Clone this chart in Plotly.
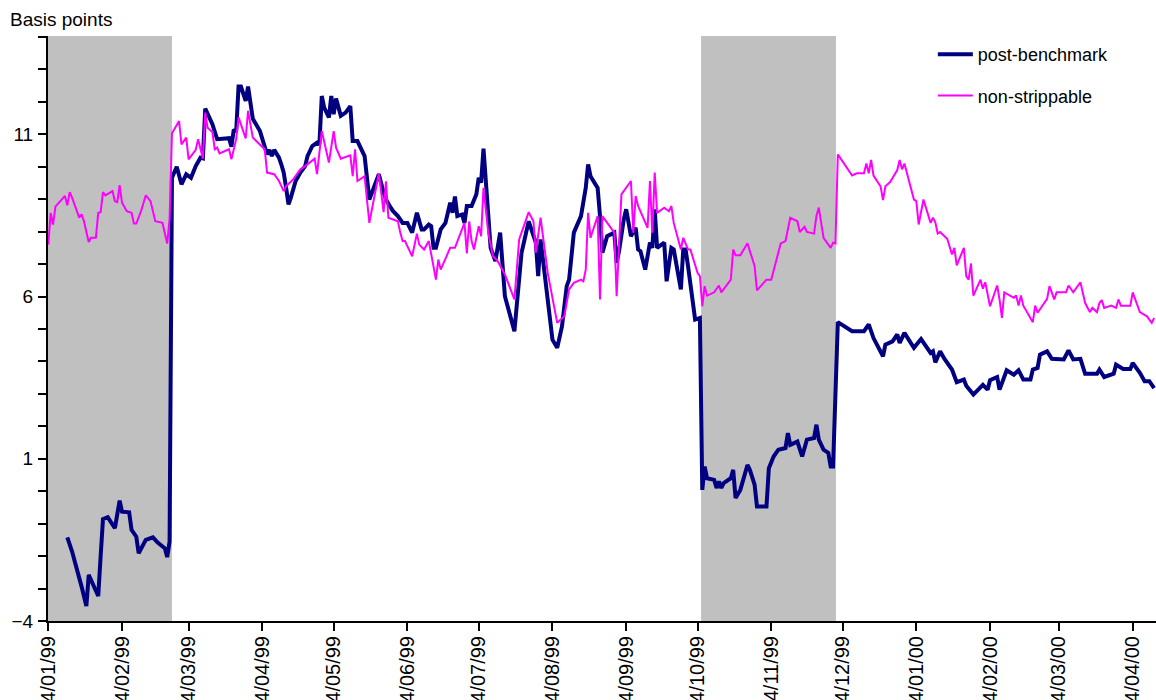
import plotly.graph_objects as go

# ---------------- data ----------------
pb_dates = [
    "1999-01-12", "1999-01-14", "1999-01-18", "1999-01-20", "1999-01-21", "1999-01-25", "1999-01-26",
    "1999-01-27", "1999-01-29", "1999-02-01", "1999-02-03", "1999-02-04", "1999-02-07", "1999-02-08",
    "1999-02-10", "1999-02-11", "1999-02-14", "1999-02-17", "1999-02-19", "1999-02-22", "1999-02-23",
    "1999-02-24", "1999-02-25", "1999-02-27", "1999-03-01", "1999-03-03", "1999-03-05", "1999-03-07",
    "1999-03-09", "1999-03-10", "1999-03-11", "1999-03-14", "1999-03-16", "1999-03-21", "1999-03-22",
    "1999-03-23", "1999-03-24", "1999-03-25", "1999-03-26", "1999-03-28", "1999-03-29", "1999-03-31",
    "1999-04-03", "1999-04-05", "1999-04-06", "1999-04-07", "1999-04-08", "1999-04-09", "1999-04-11",
    "1999-04-12", "1999-04-13", "1999-04-14", "1999-04-15", "1999-04-16", "1999-04-18", "1999-04-20",
    "1999-04-22", "1999-04-23", "1999-04-25", "1999-04-27", "1999-04-28", "1999-04-29", "1999-04-30",
    "1999-05-02", "1999-05-03", "1999-05-04", "1999-05-05", "1999-05-07", "1999-05-09", "1999-05-11",
    "1999-05-12", "1999-05-14", "1999-05-15", "1999-05-17", "1999-05-19", "1999-05-21", "1999-05-23",
    "1999-05-25", "1999-05-26", "1999-05-28", "1999-05-29", "1999-05-31", "1999-06-02", "1999-06-04",
    "1999-06-06", "1999-06-08", "1999-06-10", "1999-06-11", "1999-06-13", "1999-06-14", "1999-06-15",
    "1999-06-16", "1999-06-18", "1999-06-20", "1999-06-21", "1999-06-22", "1999-06-23", "1999-06-24",
    "1999-06-25", "1999-06-27", "1999-06-28", "1999-06-29", "1999-07-01", "1999-07-03", "1999-07-04",
    "1999-07-05", "1999-07-06", "1999-07-07", "1999-07-09", "1999-07-11", "1999-07-13", "1999-07-15",
    "1999-07-19", "1999-07-22", "1999-07-25", "1999-07-28", "1999-07-29", "1999-07-30", "1999-08-02",
    "1999-08-04", "1999-08-06", "1999-08-08", "1999-08-10", "1999-08-11", "1999-08-13", "1999-08-16",
    "1999-08-18", "1999-08-19", "1999-08-20", "1999-08-23", "1999-08-24", "1999-08-25", "1999-08-27",
    "1999-08-30", "1999-08-31", "1999-09-01", "1999-09-03", "1999-09-04", "1999-09-06", "1999-09-08",
    "1999-09-09", "1999-09-10", "1999-09-12", "1999-09-14", "1999-09-15", "1999-09-16", "1999-09-17",
    "1999-09-20", "1999-09-21", "1999-09-23", "1999-09-24", "1999-09-27", "1999-09-28", "1999-09-29",
    "1999-09-30", "1999-10-03", "1999-10-05", "1999-10-06", "1999-10-07", "1999-10-08", "1999-10-11",
    "1999-10-12", "1999-10-13", "1999-10-14", "1999-10-15", "1999-10-18", "1999-10-19", "1999-10-20",
    "1999-10-22", "1999-10-25", "1999-10-26", "1999-10-28", "1999-10-29", "1999-11-02", "1999-11-03",
    "1999-11-05", "1999-11-07", "1999-11-10", "1999-11-11", "1999-11-12", "1999-11-15", "1999-11-17",
    "1999-11-19", "1999-11-21", "1999-11-22", "1999-11-23", "1999-11-24", "1999-11-26", "1999-11-28",
    "1999-11-29", "1999-11-30", "1999-12-02", "1999-12-06", "1999-12-08", "1999-12-13", "1999-12-15",
    "1999-12-17", "1999-12-19", "1999-12-21", "1999-12-22", "1999-12-25", "1999-12-27", "1999-12-28",
    "1999-12-30", "2000-01-03", "2000-01-06", "2000-01-10", "2000-01-11", "2000-01-12", "2000-01-14",
    "2000-01-16", "2000-01-19", "2000-01-21", "2000-01-24", "2000-01-25", "2000-01-28", "2000-02-01",
    "2000-02-03", "2000-02-04", "2000-02-07", "2000-02-08", "2000-02-11", "2000-02-14", "2000-02-16",
    "2000-02-18", "2000-02-21", "2000-02-22", "2000-02-24", "2000-02-25", "2000-02-28", "2000-03-01",
    "2000-03-06", "2000-03-08", "2000-03-10", "2000-03-13", "2000-03-15", "2000-03-20", "2000-03-21",
    "2000-03-23", "2000-03-27", "2000-03-28", "2000-03-31", "2000-04-03", "2000-04-04", "2000-04-07",
    "2000-04-09", "2000-04-11", "2000-04-13",
]
pb_values = [
    -1.42, -1.86, -2.94, -3.54, -2.58, -3.23, -2.01,
    -0.86, -0.80, -1.14, -0.29, -0.63, -0.65, -1.19,
    -1.40, -1.91, -1.50, -1.42, -1.58, -1.76, -2.03,
    -1.55, 9.66, 10.00, 9.46, 9.77, 9.66, 10.02,
    10.28, 10.26, 11.79, 11.31, 10.85, 10.88, 10.62,
    11.15, 11.08, 12.47, 12.47, 12.03, 12.47, 11.48,
    11.10, 10.54, 10.38, 10.52, 10.33, 10.52, 10.28,
    10.07, 9.82, 9.35, 8.84, 9.05, 9.56, 9.82,
    10.02, 10.33, 10.64, 10.74, 10.69, 12.18, 11.82,
    11.52, 12.18, 11.62, 12.10, 11.57, 11.67, 11.87,
    10.79, 10.79, 10.64, 10.33, 8.99, 9.40, 9.77,
    9.20, 8.99, 8.74, 8.63, 8.48, 8.27, 8.27,
    7.97, 8.58, 8.07, 8.07, 8.22, 8.17, 7.50,
    7.50, 8.07, 8.27, 8.58, 8.89, 8.58, 9.08,
    8.48, 8.53, 8.27, 8.79, 8.79, 9.15, 9.66,
    9.51, 10.56, 9.51, 7.50, 7.09, 7.97, 6.01,
    4.93, 7.35, 8.32, 7.66, 6.63, 7.76, 5.80,
    4.67, 4.42, 5.08, 6.32, 6.52, 7.97, 8.48,
    9.35, 10.07, 9.71, 9.35, 8.48, 7.35, 7.86,
    7.97, 7.04, 7.40, 8.38, 8.69, 7.86, 8.12,
    7.45, 7.40, 6.83, 7.66, 7.50, 8.69, 7.50,
    7.66, 6.47, 7.50, 7.45, 6.22, 7.45, 7.45,
    6.94, 5.29, 5.34, 0.04, 0.76, 0.40, 0.35,
    0.10, 0.30, 0.10, 0.25, 0.40, 0.66, -0.21,
    0.04, 0.81, 0.66, 0.20, -0.47, -0.47, 0.71,
    1.07, 1.28, 1.33, 1.79, 1.43, 1.53, 1.07,
    1.59, 1.64, 1.64, 2.05, 1.59, 1.28, 1.18,
    0.76, 0.76, 5.21, 5.03, 4.93, 4.93, 5.14,
    4.72, 4.42, 4.16, 4.52, 4.62, 4.83, 4.57,
    4.88, 4.42, 4.69, 4.26, 4.31, 3.97, 4.31,
    4.06, 3.75, 3.36, 3.44, 3.25, 2.98, 3.28,
    3.13, 3.42, 3.52, 3.13, 3.73, 3.59, 3.73,
    3.44, 3.44, 3.75, 3.80, 4.21, 4.31, 4.08,
    4.06, 4.34, 4.06, 4.08, 3.62, 3.62, 3.75,
    3.52, 3.62, 3.90, 3.77, 3.77, 3.95, 3.65,
    3.39, 3.39, 3.18,
]

ns_dates = [
    "1999-01-04", "1999-01-05", "1999-01-06", "1999-01-07", "1999-01-11", "1999-01-12", "1999-01-13",
    "1999-01-14", "1999-01-17", "1999-01-18", "1999-01-19", "1999-01-21", "1999-01-22", "1999-01-24",
    "1999-01-25", "1999-01-26", "1999-01-27", "1999-01-28", "1999-01-31", "1999-02-01", "1999-02-02",
    "1999-02-03", "1999-02-04", "1999-02-06", "1999-02-08", "1999-02-09", "1999-02-10", "1999-02-12",
    "1999-02-14", "1999-02-16", "1999-02-18", "1999-02-21", "1999-02-23", "1999-02-24", "1999-02-25",
    "1999-02-28", "1999-03-01", "1999-03-03", "1999-03-04", "1999-03-07", "1999-03-08", "1999-03-10",
    "1999-03-11", "1999-03-12", "1999-03-14", "1999-03-15", "1999-03-16", "1999-03-17", "1999-03-21",
    "1999-03-22", "1999-03-24", "1999-03-25", "1999-03-28", "1999-03-29", "1999-03-31", "1999-04-05",
    "1999-04-06", "1999-04-09", "1999-04-11", "1999-04-13", "1999-04-14", "1999-04-17", "1999-04-20",
    "1999-04-22", "1999-04-26", "1999-04-27", "1999-04-29", "1999-05-02", "1999-05-04", "1999-05-05",
    "1999-05-07", "1999-05-11", "1999-05-12", "1999-05-13", "1999-05-14", "1999-05-17", "1999-05-19",
    "1999-05-23", "1999-05-25", "1999-05-26", "1999-05-27", "1999-05-31", "1999-06-01", "1999-06-02",
    "1999-06-03", "1999-06-06", "1999-06-08", "1999-06-09", "1999-06-11", "1999-06-13", "1999-06-16",
    "1999-06-17", "1999-06-18", "1999-06-20", "1999-06-22", "1999-06-24", "1999-06-25", "1999-06-28",
    "1999-06-29", "1999-06-30", "1999-07-01", "1999-07-02", "1999-07-04", "1999-07-05", "1999-07-06",
    "1999-07-08", "1999-07-10", "1999-07-12", "1999-07-15", "1999-07-19", "1999-07-21", "1999-07-25",
    "1999-07-27", "1999-07-28", "1999-07-30", "1999-08-02", "1999-08-06", "1999-08-09", "1999-08-11",
    "1999-08-13", "1999-08-16", "1999-08-17", "1999-08-18", "1999-08-19", "1999-08-20", "1999-08-23",
    "1999-08-24", "1999-08-25", "1999-08-30", "1999-08-31", "1999-09-02", "1999-09-06", "1999-09-07",
    "1999-09-08", "1999-09-09", "1999-09-13", "1999-09-14", "1999-09-15", "1999-09-16", "1999-09-17",
    "1999-09-20", "1999-09-22", "1999-09-23", "1999-09-24", "1999-09-27", "1999-09-28", "1999-09-30",
    "1999-10-01", "1999-10-04", "1999-10-05", "1999-10-06", "1999-10-07", "1999-10-08", "1999-10-11",
    "1999-10-13", "1999-10-14", "1999-10-18", "1999-10-19", "1999-10-20", "1999-10-22", "1999-10-25",
    "1999-10-27", "1999-10-28", "1999-10-29", "1999-11-02", "1999-11-04", "1999-11-08", "1999-11-10",
    "1999-11-12", "1999-11-15", "1999-11-16", "1999-11-18", "1999-11-19", "1999-11-22", "1999-11-23",
    "1999-11-24", "1999-11-26", "1999-11-29", "1999-11-30", "1999-12-01", "1999-12-02", "1999-12-08",
    "1999-12-10", "1999-12-13", "1999-12-14", "1999-12-15", "1999-12-16", "1999-12-17", "1999-12-20",
    "1999-12-21", "1999-12-22", "1999-12-24", "1999-12-27", "1999-12-28", "1999-12-29", "1999-12-30",
    "2000-01-03", "2000-01-04", "2000-01-05", "2000-01-07", "2000-01-10", "2000-01-11", "2000-01-12",
    "2000-01-13", "2000-01-14", "2000-01-17", "2000-01-18", "2000-01-19", "2000-01-20", "2000-01-21",
    "2000-01-24", "2000-01-25", "2000-01-26", "2000-01-27", "2000-01-28", "2000-01-31", "2000-02-01",
    "2000-02-02", "2000-02-04", "2000-02-07", "2000-02-08", "2000-02-09", "2000-02-10", "2000-02-14",
    "2000-02-15", "2000-02-16", "2000-02-17", "2000-02-18", "2000-02-22", "2000-02-23", "2000-02-24",
    "2000-02-28", "2000-02-29", "2000-03-02", "2000-03-03", "2000-03-07", "2000-03-08", "2000-03-10",
    "2000-03-13", "2000-03-15", "2000-03-17", "2000-03-18", "2000-03-20", "2000-03-21", "2000-03-22",
    "2000-03-23", "2000-03-26", "2000-03-28", "2000-03-29", "2000-03-30", "2000-04-03", "2000-04-04",
    "2000-04-07", "2000-04-10", "2000-04-12", "2000-04-13",
]
ns_values = [
    7.60, 8.58, 8.22, 8.77, 9.10, 8.81, 9.22,
    9.05, 8.43, 8.53, 8.32, 7.68, 7.81, 7.81,
    8.58, 8.60, 9.22, 9.12, 9.25, 8.94, 8.91,
    9.43, 8.89, 8.63, 8.58, 8.25, 8.25, 8.63,
    9.12, 8.94, 8.32, 8.27, 7.63, 8.38, 11.03,
    11.41, 10.69, 10.90, 10.23, 10.52, 10.85, 10.25,
    11.67, 11.20, 11.07, 10.54, 10.59, 10.41, 10.54,
    10.23, 10.85, 11.52, 10.87, 11.72, 10.90, 10.54,
    9.82, 9.77, 9.56, 9.25, 9.40, 9.61, 9.92,
    10.02, 10.25, 9.77, 11.10, 10.13, 11.10, 10.59,
    10.25, 10.35, 9.71, 10.54, 9.56, 9.71, 8.27,
    9.80, 8.60, 9.55, 8.43, 8.32, 7.97, 7.71,
    7.71, 7.24, 7.94, 7.60, 7.45, 7.71, 6.52,
    7.14, 6.83, 7.14, 7.50, 7.50, 7.71, 8.27,
    7.33, 8.32, 7.71, 7.45, 8.17, 7.86, 9.35,
    7.97, 7.24, 7.09, 6.68, 5.91, 7.76, 8.60,
    8.32, 7.35, 8.43, 6.73, 5.19, 5.39, 6.22,
    6.42, 6.52, 6.47, 6.83, 8.58, 7.81, 8.48,
    5.91, 8.48, 7.97, 6.01, 9.15, 9.56, 7.97,
    9.10, 8.79, 8.12, 9.56, 7.97, 9.82, 8.58,
    8.74, 8.63, 8.79, 8.27, 7.45, 7.81, 7.45,
    7.45, 6.73, 6.63, 5.70, 6.32, 6.03, 6.13,
    6.34, 6.13, 6.52, 7.45, 7.27, 7.27, 7.64,
    7.20, 6.94, 6.19, 6.52, 6.52, 7.64, 7.71,
    8.43, 8.32, 7.99, 8.15, 7.99, 7.94, 8.48,
    8.74, 7.81, 7.50, 7.66, 7.64, 10.38, 9.73,
    9.80, 9.80, 10.10, 9.80, 10.21, 9.73, 9.39,
    8.97, 9.40, 9.53, 9.90, 10.21, 9.92, 10.10,
    8.99, 8.94, 8.22, 8.99, 8.27, 8.43, 8.29,
    7.94, 7.99, 7.78, 7.50, 7.30, 7.50, 6.96,
    7.50, 6.63, 6.52, 7.02, 6.03, 6.52, 6.24,
    6.44, 5.70, 6.34, 5.91, 5.34, 6.13, 5.96,
    6.03, 5.72, 6.03, 5.72, 5.21, 5.72, 5.50,
    5.93, 6.32, 5.91, 6.13, 6.13, 6.34, 6.13,
    6.44, 5.80, 5.52, 5.65, 5.52, 5.80, 5.89,
    5.65, 5.72, 5.65, 5.91, 5.72, 5.72, 6.13,
    5.52, 5.39, 5.19, 5.34,
]

# shaded periods
shade_starts = ["1999-01-03 21:00", "1999-10-05 12:00"]
shade_ends = ["1999-02-25 00:00", "1999-12-01 05:00"]

# x tick dates and labels
tick_dates = [
    "1999-01-04", "1999-02-04", "1999-03-04", "1999-04-04", "1999-05-04", "1999-06-04",
    "1999-07-04", "1999-08-04", "1999-09-04", "1999-10-04", "1999-11-04", "1999-12-04",
    "2000-01-04", "2000-02-04", "2000-03-04", "2000-04-04",
]
tick_labels = [
    "04/01/99", "04/02/99", "04/03/99", "04/04/99", "04/05/99", "04/06/99",
    "04/07/99", "04/08/99", "04/09/99", "04/10/99", "04/11/99", "04/12/99",
    "04/01/00", "04/02/00", "04/03/00", "04/04/00",
]
x_range = ["1999-01-03 21:00", "2000-04-13 19:00"]
y_range = [-4, 14.03]

FONT = "Liberation Sans, Arial, sans-serif"

fig = go.Figure()
fig.add_trace(go.Scatter(
    x=pb_dates, y=pb_values, mode="lines", name="post-benchmark",
    line=dict(color="#000080", width=4), legendgroup="a",
))
fig.add_trace(go.Scatter(
    x=ns_dates, y=ns_values, mode="lines", name="non-strippable",
    line=dict(color="#FF00FF", width=2), legendgroup="b",
))

for s, e in zip(shade_starts, shade_ends):
    fig.add_shape(type="rect", xref="x", yref="paper", x0=s, x1=e, y0=0, y1=1,
                  fillcolor="#C0C0C0", line=dict(width=0), layer="below")

fig.add_annotation(text="Basis points", xref="paper", yref="paper",
                   x=-0.0361, y=1.05, xanchor="left", yanchor="top",
                   showarrow=False, font=dict(family=FONT, size=19, color="black"))

fig.update_layout(
    width=1156, height=700,
    margin=dict(l=48, r=0, t=36, b=79, autoexpand=False),
    paper_bgcolor="white", plot_bgcolor="white",
    font=dict(family=FONT, size=18, color="black"),
    showlegend=True,
    legend=dict(x=0.7986, y=1.0, xanchor="left", yanchor="top",
                font=dict(family=FONT, size=18, color="black"),
                bgcolor="rgba(0,0,0,0)", tracegroupgap=15, itemwidth=35,
                traceorder="grouped"),
    xaxis=dict(
        type="date", range=x_range, tickmode="array",
        tickvals=tick_dates, ticktext=tick_labels, tickangle=-90,
        tickfont=dict(family=FONT, size=20, color="black"),
        ticks="outside", ticklen=8, tickwidth=2, tickcolor="black",
        ticklabelstandoff=-3,
        showline=True, linecolor="black", linewidth=2,
        showgrid=False, zeroline=False, automargin=False,
    ),
    yaxis=dict(
        range=y_range, tick0=1, dtick=5,
        tickfont=dict(family=FONT, size=19, color="black"),
        ticks="outside", ticklen=8, tickwidth=2, tickcolor="black",
        minor=dict(tick0=-4, dtick=1, ticks="outside", ticklen=8,
                   tickwidth=2, tickcolor="black", showgrid=False),
        ticklabelstandoff=1,
        showline=True, linecolor="black", linewidth=2,
        showgrid=False, zeroline=False, automargin=False,
    ),
)

fig.write_html("out.html")
